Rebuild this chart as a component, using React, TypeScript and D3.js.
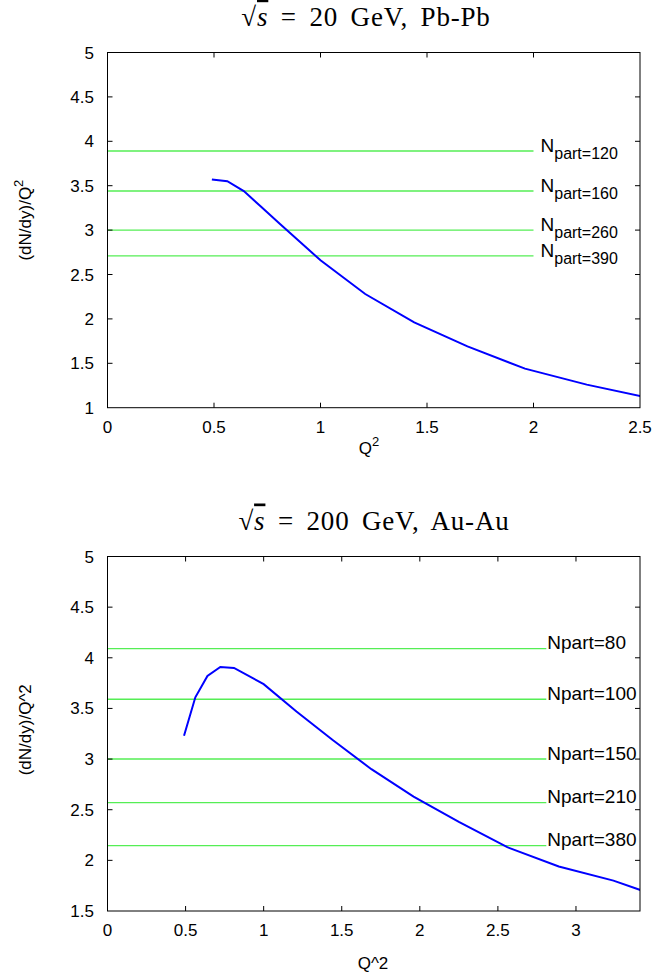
import React from "react";
import * as d3 from "d3";

// Pb-Pb at sqrt(s) = 20 GeV
const topQ2 = [0.49, 0.5625, 0.64, 0.7225, 0.81, 1.0, 1.21, 1.44, 1.69, 1.96, 2.25, 2.56];
const topRatio = [3.57, 3.55, 3.44, 3.26, 3.07, 2.66, 2.28, 1.96, 1.69, 1.44, 1.26, 1.1];
const topNpart = ["120", "160", "260", "390"];
const topLevels = [3.89, 3.44, 3.0, 2.71];
const topXTicks = [0, 0.5, 1, 1.5, 2, 2.5];
const topYTicks = [1, 1.5, 2, 2.5, 3, 3.5, 4, 4.5, 5];

// Au-Au at sqrt(s) = 200 GeV
const botQ2 = [0.49, 0.5625, 0.64, 0.7225, 0.81, 1.0, 1.21, 1.44, 1.69, 1.96, 2.25, 2.56, 2.89, 3.24, 3.61];
const botRatio = [3.23, 3.61, 3.82, 3.91, 3.9, 3.74, 3.47, 3.19, 2.9, 2.63, 2.38, 2.13, 1.94, 1.8, 1.6];
const botNpart = ["80", "100", "150", "210", "380"];
const botLevels = [4.09, 3.59, 3.0, 2.57, 2.145];
const botXTicks = [0, 0.5, 1, 1.5, 2, 2.5, 3];
const botYTicks = [1.5, 2, 2.5, 3, 3.5, 4, 4.5, 5];

const SANS = "'Liberation Sans', Arial, Helvetica, sans-serif";
const SERIF = "'Liberation Serif', 'Times New Roman', serif";

type PanelProps = {
  id: string;
  top: number;
  bottom: number;
  xMax: number;
  yMin: number;
  q2: number[];
  ratio: number[];
  levels: number[];
  npart: string[];
  lineEnd: number;
  xTicks: number[];
  yTicks: number[];
  subscript: boolean;
  caret: boolean;
  energy: string;
  system: string;
};

const Panel = (p: PanelProps) => {
  const left = 107.5;
  const right = 640;
  const x = d3.scaleLinear().domain([0, p.xMax]).range([left, right]);
  const y = d3.scaleLinear().domain([p.yMin, 5]).range([p.bottom, p.top]);
  const pts = p.q2.map((q, i) => [q, p.ratio[i]] as [number, number]);
  const line = d3
    .line<[number, number]>()
    .x((d) => x(d[0]))
    .y((d) => y(d[1]));
  const tl = 5;
  const midY = (p.top + p.bottom) / 2;

  return (
    <g>
      {/* title */}
      <text
        x={p.caret ? 374 : 366}
        y={p.top - 27}
        textAnchor="middle"
        fontFamily={SERIF}
        fontSize={27}
        style={{ wordSpacing: "5px", letterSpacing: "0.8px" }}
      >
        <tspan>√</tspan>
        <tspan fontStyle="italic" style={{ textDecoration: "overline" }}>s</tspan>
        <tspan> = {p.energy} GeV, {p.system}</tspan>
      </text>

      <clipPath id={p.id}>
        <rect x={left} y={p.top} width={right - left} height={p.bottom - p.top} />
      </clipPath>

      {/* green reference levels */}
      {p.levels.map((v, i) => (
        <g key={i}>
          <line
            x1={x(0)}
            x2={x(p.lineEnd)}
            y1={y(v)}
            y2={y(v)}
            stroke="#55ee55"
            strokeWidth={1.4}
          />
          {p.subscript ? (
            <text x={x(p.lineEnd) + 7} y={y(v) + 1} fontFamily={SANS} fontSize={19}>
              N
              <tspan fontSize={16} dy={7}>
                part={p.npart[i]}
              </tspan>
            </text>
          ) : (
            <text x={x(p.lineEnd) + 1} y={y(v) + 0.5} fontFamily={SANS} fontSize={19}>
              Npart={p.npart[i]}
            </text>
          )}
        </g>
      ))}

      {/* curve */}
      <path
        d={line(pts) || ""}
        fill="none"
        stroke="#0000ff"
        strokeWidth={2}
        clipPath={`url(#${p.id})`}
      />

      {/* frame */}
      <rect
        x={left}
        y={p.top}
        width={right - left}
        height={p.bottom - p.top}
        fill="none"
        stroke="#000"
        strokeWidth={1}
      />

      {/* x ticks */}
      {p.xTicks.map((t) => (
        <g key={"x" + t}>
          {t > 0 && t < p.xMax && (
            <>
              <line x1={x(t)} x2={x(t)} y1={p.bottom} y2={p.bottom - tl} stroke="#000" />
              <line x1={x(t)} x2={x(t)} y1={p.top} y2={p.top + tl} stroke="#000" />
            </>
          )}
          <text
            x={x(t)}
            y={p.bottom + 25}
            textAnchor="middle"
            fontFamily={SANS}
            fontSize={17}
          >
            {t}
          </text>
        </g>
      ))}

      {/* y ticks */}
      {p.yTicks.map((t) => (
        <g key={"y" + t}>
          {t > p.yMin && t < 5 && (
            <>
              <line x1={left} x2={left + tl} y1={y(t)} y2={y(t)} stroke="#000" />
              <line x1={right} x2={right - tl} y1={y(t)} y2={y(t)} stroke="#000" />
            </>
          )}
          <text
            x={94}
            y={y(t) + 6}
            textAnchor="end"
            fontFamily={SANS}
            fontSize={17}
          >
            {t}
          </text>
        </g>
      ))}

      {/* axis titles */}
      {p.caret ? (
        <>
          <text x={373} y={p.bottom + 58} textAnchor="middle" fontFamily={SANS} fontSize={17}>
            Q^2
          </text>
          <text
            transform={`translate(31, ${midY - 4}) rotate(-90)`}
            textAnchor="middle"
            fontFamily={SANS}
            fontSize={17}
          >
            (dN/dy)/Q^2
          </text>
        </>
      ) : (
        <>
          <text x={369} y={p.bottom + 46} textAnchor="middle" fontFamily={SANS} fontSize={17}>
            Q
            <tspan fontSize={13} dy={-8}>
              2
            </tspan>
          </text>
          <text
            transform={`translate(31, ${midY - 10}) rotate(-90)`}
            textAnchor="middle"
            fontFamily={SANS}
            fontSize={17}
          >
            (dN/dy)/Q
            <tspan fontSize={13} dy={-8}>
              2
            </tspan>
          </text>
        </>
      )}
    </g>
  );
};

export default function App() {
  return (
    <svg
      width={654}
      height={973}
      style={{ position: "absolute", left: 0, top: 0, background: "#fff" }}
    >
      <rect width={654} height={973} fill="#fff" />
      <Panel
        id="clipTop"
        top={52.5}
        bottom={407.7}
        xMax={2.5}
        yMin={1}
        q2={topQ2}
        ratio={topRatio}
        levels={topLevels}
        npart={topNpart}
        lineEnd={2.0}
        xTicks={topXTicks}
        yTicks={topYTicks}
        subscript={true}
        caret={false}
        energy="20"
        system="Pb-Pb"
      />
      <Panel
        id="clipBot"
        top={556.5}
        bottom={911}
        xMax={3.41}
        yMin={1.5}
        q2={botQ2}
        ratio={botRatio}
        levels={botLevels}
        npart={botNpart}
        lineEnd={2.81}
        xTicks={botXTicks}
        yTicks={botYTicks}
        subscript={false}
        caret={true}
        energy="200"
        system="Au-Au"
      />
    </svg>
  );
}
